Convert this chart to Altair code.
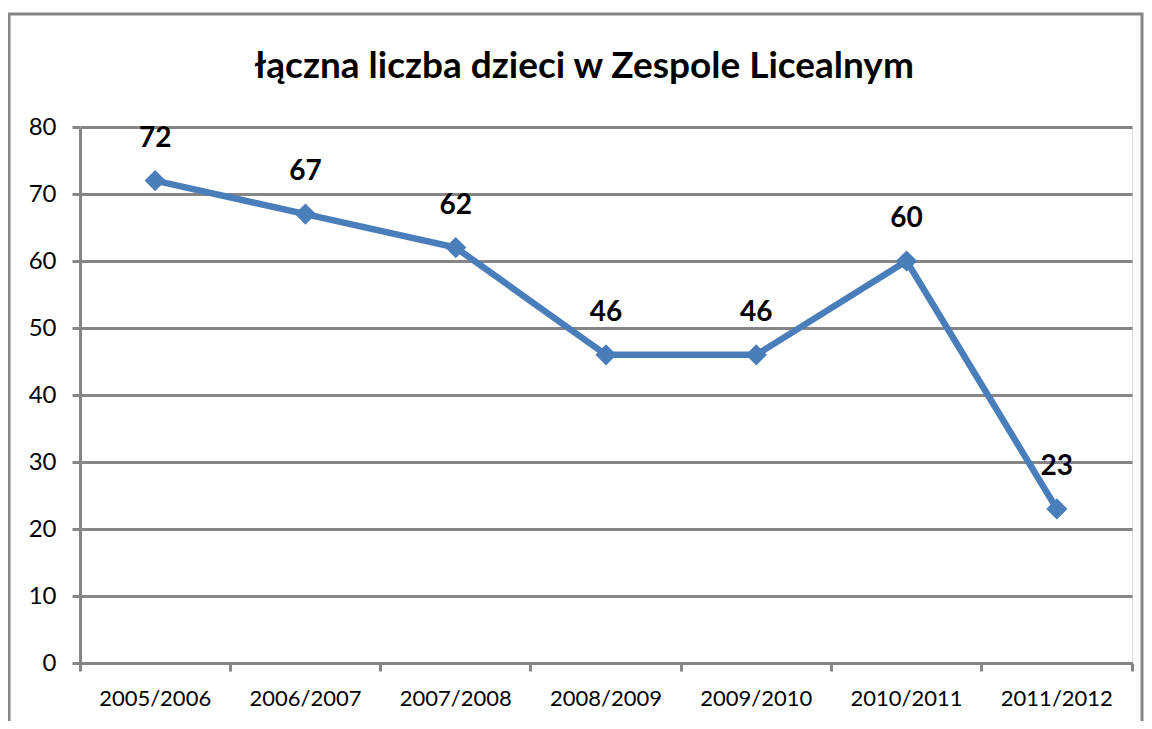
import altair as alt
import pandas as pd

years = ["2005/2006", "2006/2007", "2007/2008", "2008/2009", "2009/2010", "2010/2011", "2011/2012"]
values = [72, 67, 62, 46, 46, 60, 23]
y_ticks = [0, 10, 20, 30, 40, 50, 60, 70, 80]
title_text = "łączna liczba dzieci w Zespole Licealnym"

df = pd.DataFrame({"rok": years, "liczba": values})
title_df = pd.DataFrame({"t": [title_text]})

GRID = "#868686"
BLUE = "#4A7EBB"
FONT = "Lato"

x_enc = alt.X(
    "rok:N",
    sort=years,
    bandPosition=0.5,
    scale=alt.Scale(type="band", paddingInner=0, paddingOuter=0),
    axis=alt.Axis(
        title=None, labelAngle=0, grid=False,
        domainColor=GRID, domainWidth=3,
        ticks=True, tickSize=8, tickColor=GRID, tickWidth=3,
        bandPosition=1, tickExtra=True,
        labelFont=FONT, labelFontSize=22, labelColor="black", labelPadding=17,
    ),
)
y_enc = alt.Y(
    "liczba:Q",
    scale=alt.Scale(domain=[0, 80], nice=False),
    axis=alt.Axis(
        title=None, values=y_ticks, grid=True, gridColor=GRID, gridWidth=3,
        domainColor=GRID, domainWidth=3, tickColor=GRID, tickWidth=3, tickSize=8,
        labelFont=FONT, labelFontSize=24, labelColor="black", labelPadding=16,
    ),
)

base = alt.Chart(df)

frame = alt.Chart(title_df).mark_rect(filled=False, stroke=GRID, strokeWidth=3).encode(
    x=alt.value(-71), x2=alt.value(1062), y=alt.value(-113), y2=alt.value(700)
)
title = alt.Chart(title_df).mark_text(
    font=FONT, fontSize=37, fontWeight="bold", color="black", align="center", baseline="alphabetic"
).encode(x=alt.value(504), y=alt.value(-49), text="t:N")

line = base.mark_line(color=BLUE, strokeWidth=6.5).encode(x=x_enc, y=y_enc)
points = base.mark_point(shape="diamond", filled=True, size=450, color=BLUE, opacity=1).encode(x=x_enc, y=y_enc)
labels = base.mark_text(
    font=FONT, fontSize=28, fontWeight="bold", color="black", baseline="alphabetic", dy=-34
).encode(x=x_enc, y=y_enc, text="liczba:Q")

chart = (
    alt.layer(frame, title, line, points, labels)
    .properties(
        width=1052, height=536,
        padding={"left": 72, "top": 119, "right": 12, "bottom": 58},
        autosize=alt.AutoSizeParams(type="none"),
    )
    .configure_view(stroke="transparent")
    .configure(background="white")
)

chart.save("out.html", embed_options={"renderer": "svg", "actions": False})
